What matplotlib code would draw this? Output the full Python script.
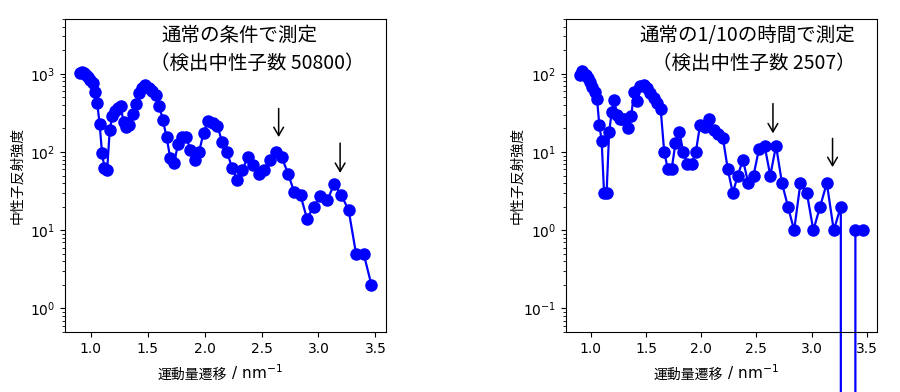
import matplotlib
matplotlib.use("Agg")
import matplotlib.pyplot as plt

# --- data ---
# momentum transfer grid (nm^-1), shared by both measurements
q = [0.901, 0.919, 0.937, 0.956, 0.975, 0.995, 1.015, 1.035, 1.056, 1.077,
     1.098, 1.120, 1.143, 1.166, 1.189, 1.213, 1.237, 1.262, 1.287, 1.313,
     1.339, 1.366, 1.393, 1.421, 1.450, 1.479, 1.508, 1.538, 1.569, 1.601,
     1.633, 1.665, 1.698, 1.732, 1.767, 1.802, 1.838, 1.875, 1.913, 1.951,
     1.990, 2.030, 2.070, 2.112, 2.154, 2.197, 2.241, 2.286, 2.332, 2.378,
     2.426, 2.474, 2.524, 2.574, 2.626, 2.678, 2.732, 2.786, 2.842, 2.899,
     2.957, 3.016, 3.077, 3.138, 3.201, 3.265, 3.330, 3.397, 3.465]

# normal measurement (50800 detected neutrons)
normal = [1010, 1040, 1010, 960, 900, 830, 760, 580, 420, 230,
          98, 62, 58, 190, 290, 335, 360, 385, 241, 209,
          220, 309, 414, 560, 650, 710, 660, 600, 530, 390,
          254, 156, 83, 73, 128, 156, 156, 106, 80, 100,
          175, 249, 235, 214, 134, 100, 62, 44, 58, 87,
          68, 53, 59, 79, 100, 85, 53, 31, 28, 14,
          20, 27, 24, 39, 28, 18, 5, 5, 2]

# 1/10 measuring time (2507 detected neutrons)
short = [97, 107, 100, 97, 89, 78, 67, 58, 48, 22,
         14, 3, 3, 18, 32, 46, 30, 26, 26, 26,
         20, 29, 59, 45, 70, 72, 66, 56, 49, 42,
         35, 10, 6, 6, 13, 18, 10, 7, 7, 10,
         22, 21, 26, 19, 17, 15, 6, 3, 5, 8,
         4, 5, 11, 12, 5, 12, 4, 2, 1, 4,
         3, 1, 2, 4, 1, 2, 0, 1, 1]

# arrows: (q, tail, tip)
arrows_normal = [(2.65, 360, 155), (3.19, 130, 54)]
arrows_short = [(2.65, 41.5, 17.3), (3.19, 14.9, 6.4)]

title_normal = ["通常の条件で測定", "（検出中性子数 50800）"]
title_short = ["通常の1/10の時間で測定", "（検出中性子数 2507）"]

xlabel_jp = "運動量遷移"
xlabel_unit = " / nm$^{-1}$"
ylabel = "中性子反射強度"

jp = ["Noto Sans CJK JP", "DejaVu Sans"]

fig = plt.figure(figsize=(9, 3.92), dpi=100)
ax1 = fig.add_axes([0.0722, 0.153, 0.3567, 0.7985])
ax2 = fig.add_axes([0.6286, 0.153, 0.3459, 0.7985])


def draw(ax, y, ylim, arrows, titles, title_pos, ha, ypad):
    ax.plot(q, y, "o-", color="#0000ff", lw=1.6, ms=8, clip_on=False)
    ax.set_yscale("log")
    ax.set_ylim(*ylim)
    ax.set_xticks([1.0, 1.5, 2.0, 2.5, 3.0, 3.5])
    ax.tick_params(labelsize=10)
    ax.set_ylabel(ylabel, family=jp, fontsize=10, labelpad=ypad)
    # x label: Japanese part in the CJK font, unit in DejaVu, placed side by side
    t1 = ax.text(0.505, -0.115, xlabel_jp, transform=ax.transAxes, family=jp,
                 fontsize=10, ha="right", va="top")
    ax.annotate(xlabel_unit, xy=(1, 0), xycoords=t1, fontsize=11,
                ha="left", va="bottom")
    for x, tail, tip in arrows:
        ax.annotate("", xy=(x, tip), xytext=(x, tail),
                    arrowprops=dict(arrowstyle="->,head_length=0.6,head_width=0.35",
                                    color="k", lw=1.1, shrinkA=0, shrinkB=0))
    for text, (tx, ty) in zip(titles, title_pos):
        ax.text(tx, ty, text, transform=ax.transAxes, family=jp,
                fontsize=14, ha=ha, va="center")


draw(ax1, normal, (0.5, 5000), arrows_normal, title_normal,
     [(0.299, 0.946), (0.265, 0.859)], "left", 4)
draw(ax2, short, (0.05, 500), arrows_short, title_short,
     [(0.930, 0.946), (0.930, 0.859)], "right", -1)

fig.savefig("out.png", dpi=100)
